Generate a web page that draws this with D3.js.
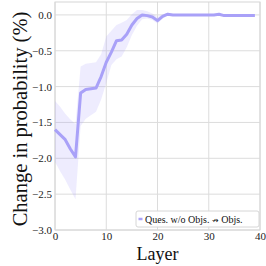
<!DOCTYPE html>
<html>
<head>
<meta charset="utf-8">
<script src="https://cdn.jsdelivr.net/npm/d3@7"></script>
<style>
  body { margin: 0; background: #fff; }
  svg { display: block; }
</style>
</head>
<body>
<div id="chart"></div>
<script>
var layers = d3.range(0, 40);
var meanVals = [-1.60, -1.67, -1.74, -1.87, -1.98, -1.09, -1.04, -1.03, -1.02, -0.86,
                -0.66, -0.52, -0.36, -0.35, -0.27, -0.14, -0.05, 0.00, -0.01, -0.03,
                -0.08, -0.02, 0.01, 0.00, 0.00, 0.00, 0.00, 0.00, 0.00, 0.00,
                0.00, 0.00, 0.01, -0.01, -0.01, -0.01, -0.01, -0.01, -0.01, -0.01];
var upperVals = [-1.20, -1.28, -1.38, -1.46, -1.52, -0.72, -0.68, -0.67, -0.66, -0.55,
                 -0.30, -0.22, -0.14, -0.11, -0.07, 0.01, 0.07, 0.07, 0.05, 0.02,
                 -0.03, 0.01, 0.03, 0.01, 0.01, 0.01, 0.01, 0.01, 0.01, 0.01,
                 0.01, 0.01, 0.02, 0.00, 0.00, 0.00, 0.00, 0.00, 0.00, 0.00];
var lowerVals = [-2.05, -2.18, -2.30, -2.44, -2.57, -1.55, -1.45, -1.40, -1.35, -1.18,
                 -0.95, -0.70, -0.62, -0.58, -0.45, -0.28, -0.15, -0.06, -0.05, -0.07,
                 -0.12, -0.05, -0.01, -0.01, -0.01, -0.01, -0.01, -0.01, -0.01, -0.01,
                 -0.01, -0.01, 0.00, -0.02, -0.02, -0.02, -0.02, -0.02, -0.02, -0.02];
var xTicks = [0, 10, 20, 30, 40];
var yTicks = [0.0, -0.5, -1.0, -1.5, -2.0, -2.5, -3.0];
var seriesParts = ["Ques. w/o Objs. ", "\u219B", " Objs."];

var W = 266, H = 266;
var margin = {top: 2, right: 6, bottom: 36, left: 55};
var color = "#a9a1f8";
var serif = "'Liberation Serif', 'Times New Roman', serif";

var svg = d3.select("#chart").append("svg").attr("width", W).attr("height", H);
var iw = W - margin.left - margin.right, ih = H - margin.top - margin.bottom;
var g = svg.append("g").attr("transform", "translate(" + margin.left + "," + margin.top + ")");

var x = d3.scaleLinear().domain([0, 40]).range([0, iw]);
var y = d3.scaleLinear().domain([-3.0, 0.18]).range([ih, 0]);

// grid
g.selectAll(".gx").data(xTicks).enter().append("line")
    .attr("x1", function(d) { return x(d); }).attr("x2", function(d) { return x(d); })
    .attr("y1", 0).attr("y2", ih)
    .attr("stroke", "#dcdcdc").attr("stroke-width", 1);
g.selectAll(".gy").data(yTicks).enter().append("line")
    .attr("x1", 0).attr("x2", iw)
    .attr("y1", function(d) { return y(d); }).attr("y2", function(d) { return y(d); })
    .attr("stroke", "#dcdcdc").attr("stroke-width", 1);
g.append("rect").attr("width", iw).attr("height", ih)
    .attr("fill", "none").attr("stroke", "#d6d6d6").attr("stroke-width", 1);

// axes (labels only)
var xAxis = g.append("g").attr("transform", "translate(0," + ih + ")")
    .call(d3.axisBottom(x).tickValues(xTicks).tickSize(0).tickPadding(2).tickFormat(d3.format("d")));
var yAxis = g.append("g")
    .call(d3.axisLeft(y).tickValues(yTicks).tickSize(0).tickPadding(3).tickFormat(d3.format(".1f")));
[xAxis, yAxis].forEach(function(a) {
    a.attr("font-family", serif).attr("font-size", 11);
    a.select(".domain").remove();
    a.selectAll("text").attr("fill", "#222");
});

// band + line
var data = layers.map(function(l, i) { return {l: l, m: meanVals[i], lo: lowerVals[i], hi: upperVals[i]}; });
g.append("path").datum(data)
    .attr("fill", color).attr("fill-opacity", 0.2).attr("stroke", "none")
    .attr("d", d3.area().x(function(d) { return x(d.l); })
        .y0(function(d) { return y(d.lo); }).y1(function(d) { return y(d.hi); }));
g.append("path").datum(data)
    .attr("fill", "none").attr("stroke", color).attr("stroke-width", 3).attr("stroke-linejoin", "round")
    .attr("d", d3.line().x(function(d) { return x(d.l); }).y(function(d) { return y(d.m); }));

// axis titles
svg.append("text").attr("x", margin.left + iw / 2).attr("y", 260)
    .attr("text-anchor", "middle").attr("font-family", serif).attr("font-size", 18).attr("fill", "#111").text("Layer");
svg.append("text").attr("transform", "translate(27,119) rotate(-90)")
    .attr("text-anchor", "middle").attr("font-family", serif).attr("font-size", 20.5).attr("fill", "#111")
    .text("Change in probability (%)");

// legend
var lg = svg.append("g").attr("transform", "translate(136,211)");
lg.append("rect").attr("width", 123).attr("height", 16).attr("rx", 2)
    .attr("fill", "#fff").attr("fill-opacity", 0.9).attr("stroke", "#d6d6d6");
lg.append("line").attr("x1", 2.5).attr("x2", 6.5).attr("y1", 8).attr("y2", 8)
    .attr("stroke", color).attr("stroke-width", 2.5);
var lt = lg.append("text").attr("x", 9).attr("y", 11.8).attr("font-family", serif).attr("font-size", 10).attr("fill", "#111");
lt.append("tspan").text(seriesParts[0]);
lt.append("tspan").attr("font-family", "'DejaVu Sans', sans-serif").attr("font-size", 8).text(seriesParts[1]);
lt.append("tspan").text(seriesParts[2]);
</script>
</body>
</html>
